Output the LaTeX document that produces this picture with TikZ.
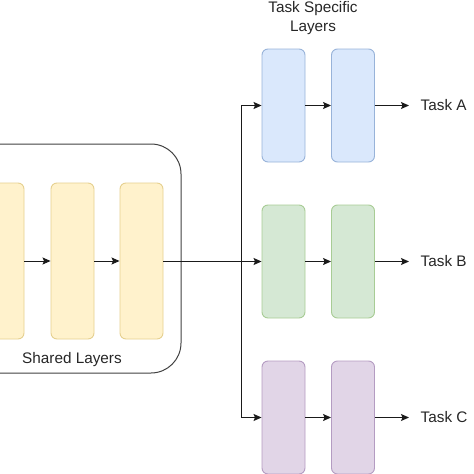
\documentclass[tikz,border=0pt]{standalone}
\usepackage{fontspec}
\setmainfont{Liberation Sans}
\usetikzlibrary{arrows.meta}
\definecolor{yfill}{HTML}{FFF2CC}
\definecolor{ydraw}{HTML}{E6D08F}
\definecolor{bfill}{HTML}{DAE8FC}
\definecolor{bdraw}{HTML}{98B3D9}
\definecolor{gfill}{HTML}{D5E8D4}
\definecolor{gdraw}{HTML}{A8CC95}
\definecolor{pfill}{HTML}{E1D5E7}
\definecolor{pdraw}{HTML}{B49CC2}
\definecolor{linecol}{HTML}{1A1A1A}
\tikzset{
  layer/.style={rounded corners=6pt, line width=0.9pt, minimum width=43pt, inner sep=0pt},
  ylayer/.style={layer, fill=yfill, draw=ydraw, minimum height=156pt},
  blayer/.style={layer, fill=bfill, draw=bdraw, minimum height=113pt},
  glayer/.style={layer, fill=gfill, draw=gdraw, minimum height=113pt},
  player/.style={layer, fill=pfill, draw=pdraw, minimum height=113pt},
  conn/.style={draw=linecol, line width=1pt, -{Stealth[length=8pt,width=7pt,inset=1.5pt]}},
  plain/.style={draw=linecol, line width=1pt},
  lbl/.style={font=\fontsize{15.3}{18.5}\selectfont, text=black!85, inner sep=0pt},
  tasklbl/.style={lbl, anchor=west, inner xsep=11.5pt}
}
\begin{document}
\begin{tikzpicture}[x=1pt,y=-1pt]
\useasboundingbox (0,0) rectangle (474,474);
\clip (0,0) rectangle (474,474);
% shared container
\node[draw=black!75, line width=1pt, rounded corners=30pt, minimum width=241pt, minimum height=229pt, inner sep=0pt] (shared) at (60.5,258.5) {};
\node[lbl] (sharedlbl) at (72,360) {Shared Layers};
% shared layers
\node[ylayer] (Y1) at (2.5,261) {};
\node[ylayer] (Y2) at (72.5,261) {};
\node[ylayer] (Y3) at (141.5,261) {};
% task specific
\node[lbl, align=center] (tsl) at (313,18) {Task Specific\\Layers};
\node[blayer] (B1) at (283.5,105.5) {};
\node[blayer] (B2) at (353,105.5) {};
\node[glayer] (G1) at (283.5,261.5) {};
\node[glayer] (G2) at (353,261.5) {};
\node[player] (P1) at (283.5,417.5) {};
\node[player] (P2) at (353,417.5) {};
% task labels
\node[tasklbl] (TA) at (409,105.5) {Task A};
\node[tasklbl] (TB) at (409,261.5) {Task B};
\node[tasklbl] (TC) at (409,417.5) {Task C};
% junction
\coordinate (J) at (241,261.5);
% connectors
\draw[conn] (Y1.east |- 0,261) -- (Y2.west |- 0,261);
\draw[conn] (Y2) -- (Y3);
\draw[conn] (Y3.east |- 0,261.5) -- (G1.west);
\draw[conn] (J) |- (B1.west);
\draw[conn] (J) |- (P1.west);
\draw[conn] (B1) -- (B2);
\draw[conn] (G1) -- (G2);
\draw[conn] (P1) -- (P2);
\draw[conn] (B2) -- (TA.west);
\draw[conn] (G2) -- (TB.west);
\draw[conn] (P2) -- (TC.west);
\end{tikzpicture}
\end{document}
